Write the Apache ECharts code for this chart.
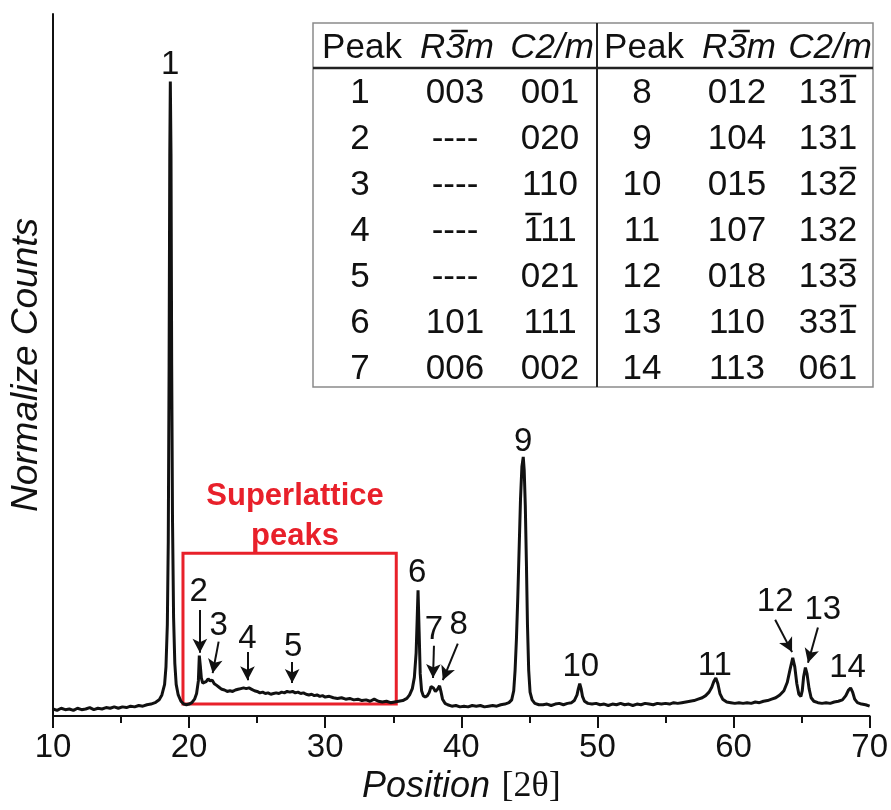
<!DOCTYPE html>
<html>
<head>
<meta charset="utf-8">
<script src="https://cdn.jsdelivr.net/npm/echarts@6/dist/echarts.min.js"></script>
<style>
html, body { margin: 0; padding: 0; background: #fff; }
#xrd { width: 891px; height: 810px; }
</style>
</head>
<body>
<div id="xrd"></div>
<script>
// *******Pattern data*******
var twoTheta = [
    10.0, 10.3, 10.6, 10.9, 11.2, 11.5, 11.8, 12.1, 12.4, 12.7,
    13.0, 13.3, 13.6, 13.9, 14.2, 14.5, 14.8, 15.1, 15.4, 15.7,
    16.0, 16.3, 16.6, 16.9, 17.2, 17.5, 17.8, 18.0, 18.2, 18.3,
    18.4, 18.47, 18.53, 18.58, 18.62, 18.67, 18.72, 18.78, 18.86, 18.95,
    19.05, 19.2, 19.4, 19.6, 19.8, 20.0, 20.2, 20.4, 20.55, 20.68,
    20.75, 20.82, 20.9, 21.0, 21.12, 21.25, 21.4, 21.55, 21.7, 21.85,
    22.0, 22.2, 22.4, 22.6, 22.8, 23.0, 23.2, 23.4, 23.6, 23.8,
    24.0, 24.2, 24.4, 24.6, 24.8, 25.0, 25.2, 25.4, 25.6, 25.8,
    26.0, 26.2, 26.4, 26.6, 26.8, 27.0, 27.2, 27.4, 27.6, 27.8,
    28.0, 28.2, 28.4, 28.6, 28.8, 29.0, 29.2, 29.4, 29.6, 29.8,
    30.0, 30.3, 30.6, 30.9, 31.2, 31.5, 31.8, 32.1, 32.4, 32.7,
    33.0, 33.3, 33.6, 33.9, 34.2, 34.5, 34.8, 35.1, 35.4, 35.7,
    36.0, 36.2, 36.4, 36.55, 36.68, 36.76, 36.82, 36.9, 36.98, 37.08,
    37.2, 37.35, 37.5, 37.65, 37.78, 37.85, 37.95, 38.1, 38.25, 38.4,
    38.5, 38.62, 38.8, 39.0, 39.3, 39.6, 39.9, 40.2, 40.5, 40.8,
    41.1, 41.4, 41.7, 42.0, 42.3, 42.6, 42.9, 43.2, 43.5, 43.7,
    43.85, 43.95, 44.05, 44.15, 44.25, 44.35, 44.45, 44.55, 44.62, 44.7,
    44.78, 44.86, 44.95, 45.05, 45.2, 45.4, 45.7, 46.0, 46.3, 46.6,
    46.9, 47.2, 47.5, 47.8, 48.1, 48.3, 48.5, 48.6, 48.7, 48.8,
    48.9, 49.05, 49.3, 49.6, 49.9, 50.2, 50.5, 50.8, 51.1, 51.4,
    51.7, 52.0, 52.3, 52.6, 52.9, 53.2, 53.5, 53.8, 54.1, 54.4,
    54.7, 55.0, 55.3, 55.6, 55.9, 56.2, 56.5, 56.8, 57.1, 57.4,
    57.7, 57.95, 58.2, 58.4, 58.55, 58.7, 58.85, 59.0, 59.2, 59.5,
    59.8, 60.1, 60.4, 60.7, 61.0, 61.3, 61.6, 61.9, 62.2, 62.5,
    62.8, 63.1, 63.4, 63.7, 63.95, 64.15, 64.35, 64.5, 64.65, 64.8,
    64.95, 65.05, 65.15, 65.28, 65.4, 65.55, 65.7, 65.9, 66.2, 66.5,
    66.8, 67.1, 67.4, 67.7, 68.0, 68.25, 68.45, 68.6, 68.75, 68.9,
    69.1, 69.4, 69.7, 70.0
];
var counts = [
    1.0, 0.8, 1.1, 0.9, 1.0, 0.8, 1.1, 0.9, 1.0, 1.2,
    0.9, 1.1, 1.0, 1.2, 1.1, 1.3, 1.1, 1.3, 1.2, 1.4,
    1.3, 1.5, 1.4, 1.6, 1.7, 1.9, 2.3, 3.0, 4.5, 7.0,
    13, 25, 50, 80, 90.4, 80, 50, 28, 14, 7.5,
    4.5, 3.0, 2.1, 1.7, 1.6, 1.7, 1.9, 2.4, 3.2, 5.0,
    8.6, 7.2, 5.4, 4.7, 4.6, 4.9, 5.3, 5.0, 5.1, 4.6,
    4.4, 4.1, 3.8, 3.7, 3.5, 3.6, 3.5, 3.7, 3.8, 3.9,
    4.0, 3.9, 4.0, 3.8, 3.6, 3.5, 3.3, 3.4, 3.2, 3.3,
    3.1, 3.2, 3.3, 3.2, 3.4, 3.3, 3.5, 3.4, 3.5, 3.3,
    3.4, 3.2, 3.3, 3.1, 3.0, 3.1, 2.9, 3.0, 2.8, 2.9,
    2.7, 2.8, 2.6, 2.5, 2.6, 2.4, 2.5, 2.3, 2.4, 2.2,
    2.3, 2.1, 2.4, 2.1, 2.0, 2.1, 1.9, 2.0, 2.1, 2.2,
    2.5, 3.0, 3.9, 5.5, 9.0, 14, 17.9, 12, 6.0, 3.6,
    2.9, 2.7, 2.9, 3.4, 4.2, 4.4, 4.0, 3.5, 3.8, 4.3,
    3.5, 2.4, 1.8, 1.6, 1.4, 1.5, 1.3, 1.4, 1.3, 1.5,
    1.4, 1.5, 1.3, 1.4, 1.5, 1.4, 1.6, 1.7, 1.9, 2.3,
    3.6, 6.5, 11, 17, 24, 31, 35.5, 36.9, 35, 30,
    22, 13, 6.5, 3.4, 2.3, 1.8, 1.6, 1.6, 1.7, 1.5,
    1.7, 1.8, 1.6, 1.8, 1.9, 2.2, 3.0, 3.9, 4.6, 3.9,
    2.8, 2.1, 1.8, 1.7, 1.8, 1.6, 1.7, 1.5, 1.7, 1.6,
    1.8, 1.6, 1.7, 1.5, 1.7, 1.6, 1.8, 1.7, 1.6, 1.8,
    1.7, 1.8, 1.7, 1.9, 1.8, 1.9, 2.0, 2.1, 2.2, 2.4,
    2.6, 2.9, 3.4, 4.1, 4.9, 5.4, 4.6, 3.2, 2.4, 2.0,
    1.9, 1.8, 1.9, 1.8, 1.9, 1.8, 2.0, 1.9, 2.1, 2.2,
    2.4, 2.6, 3.0, 3.6, 4.8, 6.6, 8.3, 7.0, 4.6, 3.1,
    2.8, 3.6, 5.6, 6.9, 6.0, 3.9, 2.6, 2.1, 1.9, 1.8,
    1.9, 1.8, 2.0, 2.1, 2.3, 2.9, 3.7, 4.0, 3.4, 2.4,
    1.9, 1.7, 1.6, 1.4
];

// peak numbers and where their text sits (data coords)
var peakNames = ['1', '2', '3', '4', '5', '6', '7', '8', '9', '10', '11', '12', '13', '14'];
var peakLabelX = [18.6, 20.71, 22.17, 24.29, 27.64, 36.75, 37.99, 39.81, 44.55, 48.78, 58.62, 63.06, 66.56, 68.38];
var peakLabelY = [92.7, 17.7, 12.8, 11.0, 9.8, 20.4, 12.3, 13.0, 39.1, 7.0, 7.1, 16.3, 15.1, 6.8];

// arrows: [x1, y1, x2, y2] from label down to the peak
var arrowSegments = [
    [20.79, 15.1, 20.79, 9.0],
    [22.17, 10.6, 21.73, 6.1],
    [24.29, 9.1, 24.29, 5.1],
    [27.57, 7.7, 27.57, 4.7],
    [37.99, 10.0, 37.92, 5.4],
    [39.74, 10.3, 38.64, 5.1],
    [63.06, 13.7, 64.30, 9.1],
    [66.2, 12.6, 65.47, 7.6]
];

// superlattice region box [xMin, yMin, xMax, yMax]
var superlatticeBox = [19.55, 1.7, 35.22, 23.2];
var superlatticeText = 'Superlattice\npeaks';
var superlatticePos = [27.78, 28.4];

// inset table, '~' puts a bar over the next character
var tableHeader = ['Peak', 'R~3m', 'C2/m'];
var peaksLeft = ['1', '2', '3', '4', '5', '6', '7'];
var r3mLeft = ['003', '----', '----', '----', '----', '101', '006'];
var c2mLeft = ['001', '020', '110', '~111', '021', '111', '002'];
var peaksRight = ['8', '9', '10', '11', '12', '13', '14'];
var r3mRight = ['012', '104', '015', '107', '018', '110', '113'];
var c2mRight = ['13~1', '131', '13~2', '132', '13~3', '33~1', '061'];

var FONT = '"Liberation Sans", Arial, Helvetica, sans-serif';
var INK = '#111';
var RED = '#e8202a';

var myChart = echarts.init(document.getElementById('xrd'), null, {renderer: 'canvas'});
var measureCtx = document.createElement('canvas').getContext('2d');

function build_pattern() {
    var data = [];
    for (var i = 0; i < twoTheta.length; i++) {
        data.push([twoTheta[i], counts[i]]);
    }
    return data;
}

function build_peak_labels() {
    var data = [];
    for (var i = 0; i < peakNames.length; i++) {
        data.push({name: peakNames[i], value: [peakLabelX[i], peakLabelY[i]]});
    }
    return data;
}

function build_arrows() {
    return arrowSegments.map(function (a) {
        return [{coord: [a[0], a[1]]}, {coord: [a[2], a[3]]}];
    });
}

// table drawn as graphic elements (layout only, no data marks)
function build_table() {
    var left = 313, right = 873, top = 23, bottom = 387, mid = 597;
    var colLeft = [360, 455, 550];
    var colRight = [642, 737, 828];
    var headY = 48;
    var rowY0 = 93, rowStep = 46;
    var els = [];

    els.push({type: 'rect', shape: {x: left, y: top, width: right - left, height: bottom - top},
        style: {fill: '#fff', stroke: '#8a8a8a', lineWidth: 1.5}, z: 10});
    els.push({type: 'line', shape: {x1: left, y1: 68, x2: right, y2: 68},
        style: {stroke: '#222', lineWidth: 2.5}, z: 11});
    els.push({type: 'line', shape: {x1: mid, y1: top, x2: mid, y2: bottom},
        style: {stroke: '#222', lineWidth: 2}, z: 11});

    function txt(s, x, y, italic) {
        var font = (italic ? 'italic ' : '') + '35px ' + FONT;
        var plain = s.replace(/~/g, '');
        els.push({type: 'text', z: 12, style: {
            text: plain, x: x, y: y, fill: INK, font: font,
            textAlign: 'center', verticalAlign: 'middle'
        }});
        // overbars
        measureCtx.font = font;
        var start = x - measureCtx.measureText(plain).width / 2;
        var k = 0;
        for (var i = 0; i < s.length; i++) {
            if (s[i] === '~') {
                var w0 = measureCtx.measureText(plain.slice(0, k)).width;
                var w1 = measureCtx.measureText(plain.slice(0, k + 1)).width;
                var skew = italic ? 4 : 0;
                els.push({type: 'line', z: 12, shape: {
                    x1: start + w0 + 2 + skew, y1: y - 17, x2: start + w1 - 1 + skew, y2: y - 17
                }, style: {stroke: INK, lineWidth: 2.5}});
            } else {
                k++;
            }
        }
    }

    [colLeft, colRight].forEach(function (cols) {
        txt(tableHeader[0], cols[0] + 2, headY, false);
        txt(tableHeader[1], cols[1] + 2, headY, true);
        txt(tableHeader[2], cols[2] + 2, headY, true);
    });
    for (var i = 0; i < peaksLeft.length; i++) {
        var y = rowY0 + i * rowStep;
        txt(peaksLeft[i], colLeft[0], y);
        txt(r3mLeft[i], colLeft[1], y);
        txt(c2mLeft[i], colLeft[2], y);
        txt(peaksRight[i], colRight[0], y);
        txt(r3mRight[i], colRight[1], y);
        txt(c2mRight[i], colRight[2], y);
    }
    return els;
}

var option = {
    animation: false,
    backgroundColor: '#fff',
    grid: {left: 51, right: 17, top: 14, bottom: 94, containLabel: false},
    xAxis: {
        type: 'value', min: 10, max: 70, interval: 10,
        name: '{i|Position} {r|[2\u03b8]}',
        nameLocation: 'middle', nameGap: 52,
        nameTextStyle: {
            rich: {
                i: {fontStyle: 'italic', fontSize: 36, fontFamily: FONT, color: INK},
                r: {fontSize: 36, fontFamily: '"Liberation Serif", serif', color: INK, padding: [0, 0, 0, 8]}
            }
        },
        axisLine: {show: true, onZero: false, lineStyle: {color: INK, width: 2}},
        axisTick: {show: true, inside: false, length: 12, lineStyle: {color: INK, width: 2}},
        minorTick: {show: true, splitNumber: 2, length: 7, lineStyle: {color: INK, width: 2}},
        axisLabel: {fontSize: 33, fontFamily: FONT, color: INK, margin: 15},
        splitLine: {show: false}
    },
    yAxis: {
        type: 'value', min: 0, max: 100,
        name: 'Normalize Counts', nameLocation: 'middle', nameGap: 8, nameRotate: 90,
        nameTextStyle: {fontStyle: 'italic', fontSize: 37, fontFamily: FONT, color: INK},
        axisLine: {show: true, onZero: false, lineStyle: {color: INK, width: 2}},
        axisTick: {show: false},
        axisLabel: {show: false},
        splitLine: {show: false}
    },
    graphic: build_table(),
    series: [
        {
            type: 'line',
            data: build_pattern(),
            showSymbol: false,
            symbol: 'none',
            lineStyle: {color: INK, width: 3},
            z: 3,
            markArea: {
                silent: true,
                itemStyle: {color: 'rgba(0,0,0,0)', borderColor: RED, borderWidth: 3},
                data: [[
                    {coord: [superlatticeBox[0], superlatticeBox[1]]},
                    {coord: [superlatticeBox[2], superlatticeBox[3]]}
                ]]
            },
            markLine: {
                silent: true,
                symbol: ['none', 'arrow'],
                symbolSize: [11, 14],
                label: {show: false},
                lineStyle: {color: INK, width: 2, type: 'solid'},
                data: build_arrows()
            }
        },
        {
            type: 'scatter',
            data: build_peak_labels(),
            symbolSize: 1,
            itemStyle: {color: 'rgba(0,0,0,0)', opacity: 1},
            label: {
                show: true, position: 'inside', formatter: '{b}',
                fontSize: 33, fontFamily: FONT, color: INK
            },
            z: 5
        },
        {
            type: 'scatter',
            data: [{name: superlatticeText, value: superlatticePos}],
            symbolSize: 1,
            itemStyle: {color: 'rgba(0,0,0,0)', opacity: 1},
            label: {
                show: true, position: 'inside', formatter: '{b}',
                fontSize: 31, fontWeight: 'bold', lineHeight: 40,
                fontFamily: FONT, color: RED
            },
            z: 5
        }
    ]
};

myChart.setOption(option);
</script>
</body>
</html>
